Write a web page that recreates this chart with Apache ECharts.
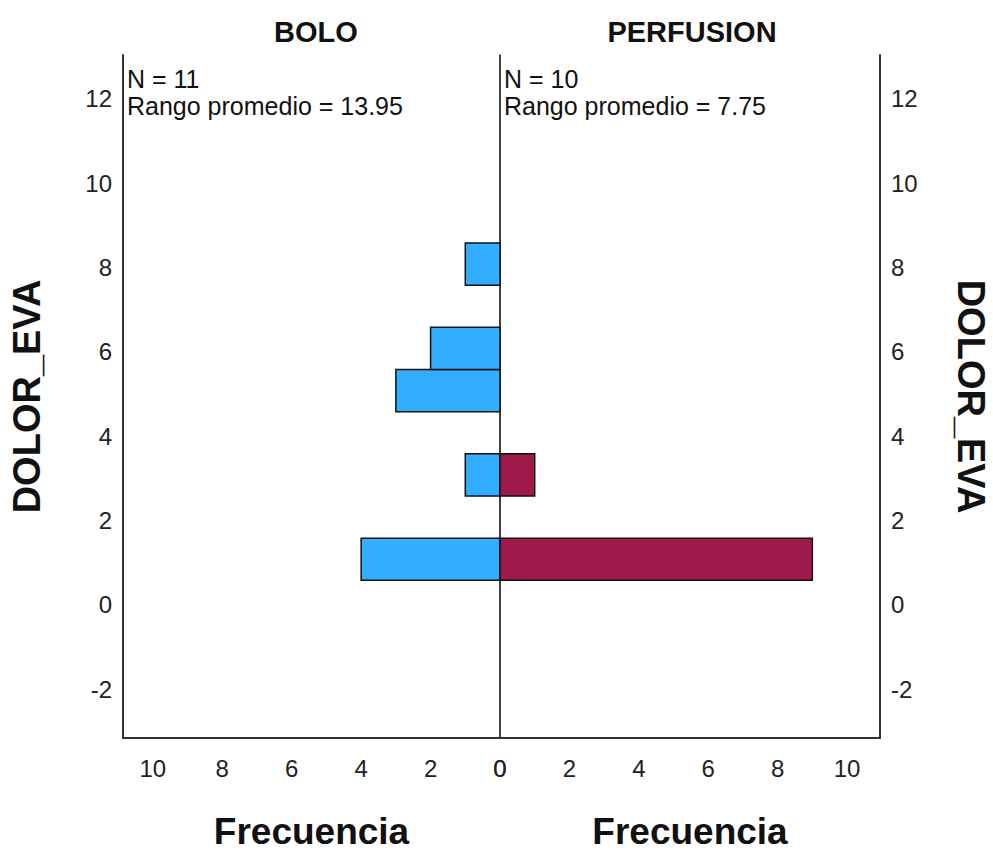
<!DOCTYPE html>
<html>
<head>
<meta charset="utf-8">
<script src="https://cdn.jsdelivr.net/npm/echarts@6/dist/echarts.min.js"></script>
<style>html,body{margin:0;padding:0;background:#fff}#c{width:993px;height:851px}</style>
</head>
<body>
<div id="c"></div>
<script>
const groups = ['BOLO', 'PERFUSION'];
const boloBins = [1, 3, 5, 6, 8];
const boloFreq = [4, 1, 3, 2, 1];
const perfBins = [1, 3];
const perfFreq = [9, 1];
const yTicks = [-2, 0, 2, 4, 6, 8, 10, 12];
const xTicks = [0, 2, 4, 6, 8, 10];
const notes = [['N = 11', 'Rango promedio = 13.95'], ['N = 10', 'Rango promedio = 7.75']];

const FONT = '"Liberation Sans", Arial, sans-serif';
const chart = echarts.init(document.getElementById('c'), null, {renderer: 'svg'});

function makeRender(color) {
  return function (params, api) {
    const v = api.value(0), c = api.value(1);
    const p1 = api.coord([0, c - 0.42]);
    const p2 = api.coord([v, c + 0.58]);
    return {
      type: 'rect',
      shape: {x: Math.min(p1[0], p2[0]), y: Math.min(p1[1], p2[1]),
              width: Math.abs(p2[0] - p1[0]), height: Math.abs(p2[1] - p1[1])},
      style: {fill: color, stroke: '#111', lineWidth: 1.5}
    };
  };
}

const axisLbl = {fontFamily: FONT, fontSize: 24, color: '#222'};
const yCommon = {
  type: 'value', min: -3.16, max: 13.04,
  splitLine: {show: false}, axisTick: {show: false}
};
const xCommon = {
  type: 'value', min: 0, splitLine: {show: false}, axisTick: {show: false},
  axisLine: {show: true, onZero: false, lineStyle: {color: '#333', width: 2}},
  axisLabel: Object.assign({customValues: xTicks, margin: 18}, axisLbl),
  name: 'Frecuencia', nameLocation: 'middle', nameGap: 76,
  nameTextStyle: {fontFamily: FONT, fontSize: 37, lineHeight: 34, fontWeight: 'bold', color: '#111'}
};

chart.setOption({
  animation: false,
  backgroundColor: '#fff',
  title: [
    {text: groups[0], left: 311, top: 12, textAlign: 'center',
     textStyle: {fontFamily: FONT, fontSize: 29, fontWeight: 'bold', color: '#111'}},
    {text: groups[1], left: 687, top: 12, textAlign: 'center',
     textStyle: {fontFamily: FONT, fontSize: 29, fontWeight: 'bold', color: '#111'}}
  ],
  grid: [
    {left: 123, top: 55, width: 377, height: 683, containLabel: false, outerBoundsMode: 'none'},
    {left: 500, top: 55, width: 380, height: 683, containLabel: false, outerBoundsMode: 'none'}
  ],
  xAxis: [
    Object.assign({}, xCommon, {gridIndex: 0, inverse: true, max: 10.86}),
    Object.assign({}, xCommon, {gridIndex: 1, max: 10.95})
  ],
  yAxis: [
    Object.assign({}, yCommon, {gridIndex: 0, position: 'left',
      axisLine: {show: true, onZero: false, lineStyle: {color: '#333', width: 2}},
      axisLabel: Object.assign({customValues: yTicks, margin: 11}, axisLbl),
      name: 'DOLOR_EVA', nameLocation: 'middle', nameGap: 77, nameRotate: 90,
      nameTextStyle: {fontFamily: FONT, fontSize: 38, fontWeight: 'bold', color: '#111'}}),
    Object.assign({}, yCommon, {gridIndex: 1, position: 'right',
      axisLine: {show: true, onZero: false, lineStyle: {color: '#333', width: 2}},
      axisLabel: Object.assign({customValues: yTicks, margin: 11}, axisLbl),
      name: 'DOLOR_EVA', nameLocation: 'middle', nameGap: 72, nameRotate: -90,
      nameTextStyle: {fontFamily: FONT, fontSize: 38, fontWeight: 'bold', color: '#111'}}),
    Object.assign({}, yCommon, {gridIndex: 1, position: 'left',
      axisLine: {show: true, onZero: false, lineStyle: {color: '#000', width: 1.5}},
      axisLabel: {show: false}})
  ],
  graphic: [
    {type: 'text', left: 127, top: 65, z: 10,
     style: {text: notes[0].join('\n'), fontFamily: FONT, fontSize: 25, lineHeight: 27, fill: '#111'}},
    {type: 'text', left: 504, top: 65, z: 10,
     style: {text: notes[1].join('\n'), fontFamily: FONT, fontSize: 25, lineHeight: 27, fill: '#111'}}
  ],
  series: [
    {type: 'custom', xAxisIndex: 0, yAxisIndex: 0, renderItem: makeRender('#33adff'),
     data: boloBins.map((b, i) => [boloFreq[i], b]), encode: {x: 0, y: 1}},
    {type: 'custom', xAxisIndex: 1, yAxisIndex: 1, renderItem: makeRender('#a0194b'),
     data: perfBins.map((b, i) => [perfFreq[i], b]), encode: {x: 0, y: 1}}
  ]
});
</script>
</body>
</html>
